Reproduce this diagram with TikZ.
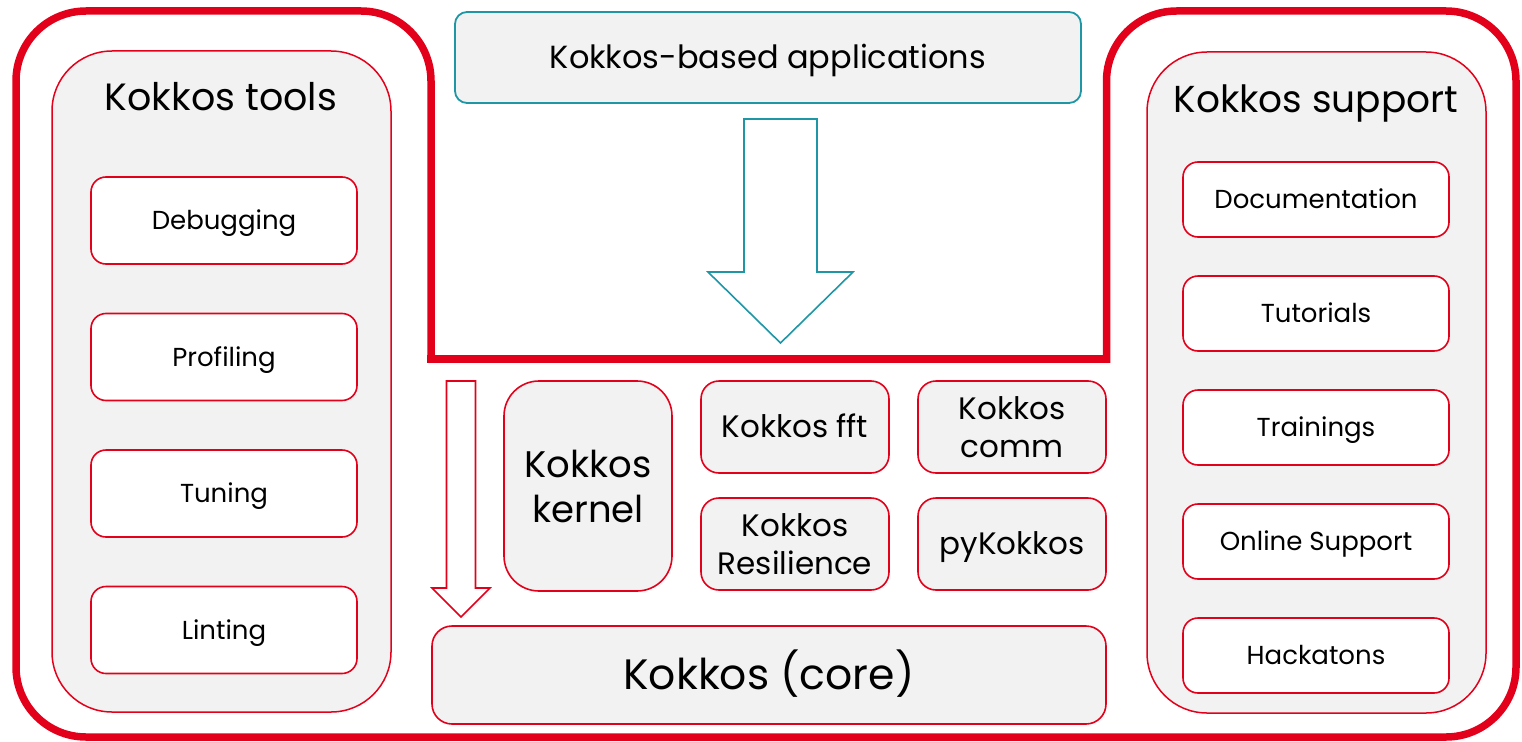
\documentclass[tikz,border=0pt]{standalone}
\usepackage{fontspec}
\setmainfont{Poppins}
\usetikzlibrary{positioning}
\definecolor{kred}{HTML}{E2001A}
\definecolor{kteal}{HTML}{1F96A6}
\definecolor{kgray}{HTML}{F2F2F2}

\begin{document}
\begin{tikzpicture}[x=1pt, y=-1pt,
      outline/.style={
         draw=kred,
         line width=7.5pt,
         line cap=rect},
      panel/.style={
         draw=kred,
         fill=kgray,
         line width=1.5pt,
         rounded corners=60pt,
         minimum width=339pt,
         minimum height=661pt,
         outer sep=0pt},
      paneltitle/.style={anchor=base, inner sep=0pt, font=\fontsize{38}{46}\selectfont},
      toolbox/.style={
         draw=kred,
         fill=white,
         line width=1.6pt,
         rounded corners=15pt,
         minimum width=266pt,
         minimum height=87pt,
         outer sep=0pt,
         text height=18.2pt,
         text depth=0pt,
         font=\fontsize{26}{31}\selectfont},
      supportbox/.style={toolbox, minimum height=75pt},
      modbox/.style={
         draw=kred,
         fill=kgray,
         line width=1.6pt,
         rounded corners=18pt,
         minimum width=188pt,
         minimum height=92pt,
         outer sep=0pt,
         align=center,
         font=\fontsize{31}{38}\selectfont},
      onelinebox/.style={text height=#1, text depth=0pt},
      onelinebox/.default=21.7pt,
      blockarrow/.style={fill=white, line width=1.6pt, line join=miter},
      node distance=49.5pt
      ]
      \useasboundingbox (0,0) rectangle (1522,741);

      % thick frame with the notch for the applications
      \draw[outline] (431,359) -- (1106.5,359);
      \draw[outline, rounded corners=70pt] (431,359) -- (431,11) -- (16,11) -- (16,737)
         -- (1516,737) -- (1516,11) -- (1106.5,11) -- (1106.5,359);

      \node[panel] (tools) at (221.5,381.5) {};
      \node[paneltitle] (toolstitle) at (221,111) {Kokkos tools};
      \node[toolbox] (dbg) at (224,220.5) {Debugging};
      \node[toolbox, below = of dbg] (prof) {Profiling};
      \node[toolbox, below = of prof] (tune) {Tuning};
      \node[toolbox, below = of tune] (lint) {Linting};

      \node[panel] (support) at (1316.5,382.5) {};
      \node[paneltitle, font=\fontsize{37.5}{46}\selectfont] (supporttitle) at (1316,113) {Kokkos support};
      \node[supportbox] (doc) at (1316,199.5) {Documentation};
      \node[supportbox, below = 39pt of doc] (tut) {Tutorials};
      \node[supportbox, below = 39pt of tut] (train) {Trainings};
      \node[supportbox, below = 39pt of train] (online) {Online Support};
      \node[supportbox, below = 39pt of online] (hack) {Hackatons};

      \node[modbox, fill=kgray, draw=kteal, line width=1.8pt, rounded corners=12pt,
            minimum width=626pt, minimum height=91pt, onelinebox=22.4pt,
            font=\fontsize{32}{38}\selectfont] (apps) at (768,57.5) {Kokkos-based applications};

      \node[modbox, rounded corners=35pt, minimum width=168pt, minimum height=210pt,
            font=\fontsize{37}{45}\selectfont] (kernel) at (588,486) {Kokkos\\kernel};
      \node[modbox, onelinebox] (fft) at (795,427) {Kokkos fft};
      \node[modbox, right = 29pt of fft] (comm) {Kokkos\\comm};
      \node[modbox, below = 25pt of fft] (resil) {Kokkos\\Resilience};
      \node[modbox, onelinebox, below = 25pt of comm] (pyk) {pyKokkos};
      \node[modbox, rounded corners=20pt, minimum width=674pt, minimum height=98pt, onelinebox=29.7pt,
            font=\fontsize{42.5}{50}\selectfont] (core) at (769,675) {Kokkos (core)};

      %
      \draw[blockarrow, draw=kteal] (744,119) -- (817,119) -- (817,272) -- (853,272)
         -- (780.5,343) -- (708,272) -- (744,272) -- cycle;
      \draw[blockarrow, draw=kred] (446.5,381) -- (475.5,381) -- (475.5,588) -- (490,588)
         -- (461,617) -- (432,588) -- (446.5,588) -- cycle;

    \end{tikzpicture}
\end{document}
